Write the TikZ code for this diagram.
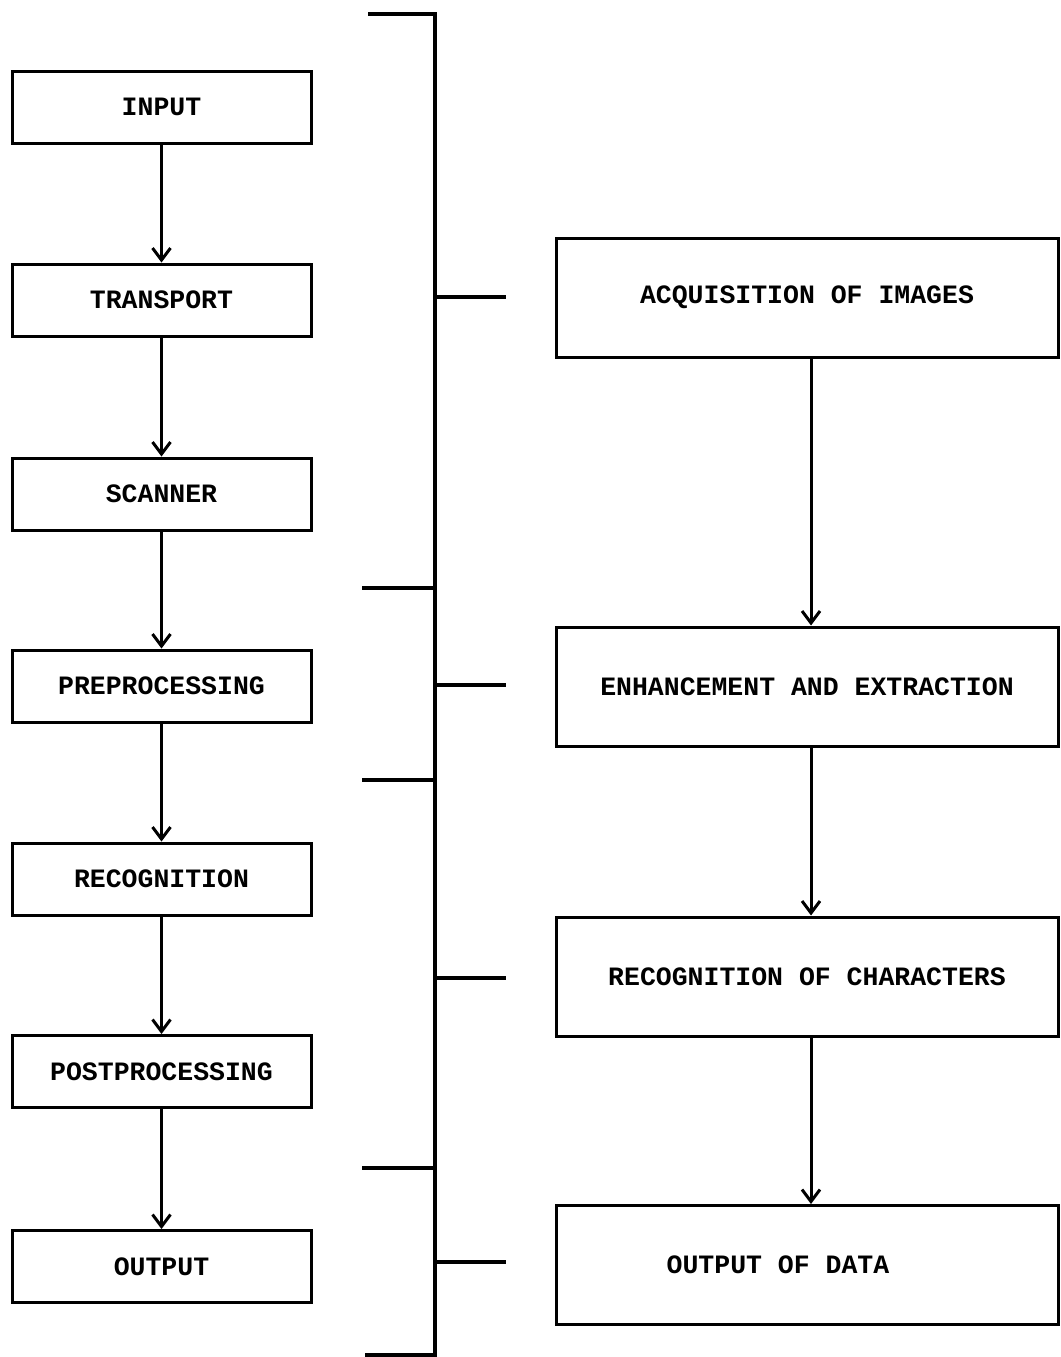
\documentclass[tikz,border=0pt]{standalone}
\usepackage{fontspec}
\setmonofont{Liberation Mono}
\usetikzlibrary{arrows.meta}

\begin{document}
\begin{tikzpicture}[x=1pt,y=-1pt,>={Straight Barb[length=12pt,width=18pt]},line width=3pt,
  stage/.style={draw,minimum width=299pt,minimum height=72pt,inner sep=0pt,
    font=\ttfamily\bfseries\fontsize{26.5}{30}\selectfont},
  phase/.style={stage,minimum width=502pt,minimum height=119pt}]
\useasboundingbox (0,0) rectangle (1060,1357);
% hardware chain
\foreach \n/\y/\t in {inp/107/INPUT,trn/300/TRANSPORT,scn/494/SCANNER,pre/686/PREPROCESSING,
  rec/879/RECOGNITION,pst/1071.5/POSTPROCESSING,out/1266.5/OUTPUT}
  \node[stage] (\n) at (161.5,\y) {\t};
\foreach \a/\b in {inp/trn,trn/scn,scn/pre,pre/rec,rec/pst,pst/out}
  \draw[->] (\a) -- (\b);
% functional phases
\node[phase] (acq) at (807,297.5) {ACQUISITION OF IMAGES};
\node[phase] (enh) at (807,686.5) {ENHANCEMENT AND EXTRACTION};
\node[phase] (chr) at (807,976.5) {RECOGNITION OF CHARACTERS};
\node[phase,label={[xshift=-29pt,font=\ttfamily\bfseries\fontsize{26.5}{30}\selectfont]center:OUTPUT OF DATA}] (dat) at (807,1265) {};
\foreach \a/\b in {acq/enh,enh/chr,chr/dat}
  \draw[->] (\a.south -| 811,0) -- (\b.north -| 811,0);
% bracket
\coordinate (top) at (435,14); \coordinate (bot) at (435,1355);
\draw[line width=3.4pt] (368,14) -- (top) -- (bot) -- (365,1355);
\foreach \y in {588,780,1168}
  \draw[line width=3.4pt] (top |- 0,\y) -- (362,\y);
\foreach \y in {297,685,978,1262}
  \draw[line width=3.4pt] (top |- 0,\y) -- (506,\y);
\end{tikzpicture}
\end{document}
